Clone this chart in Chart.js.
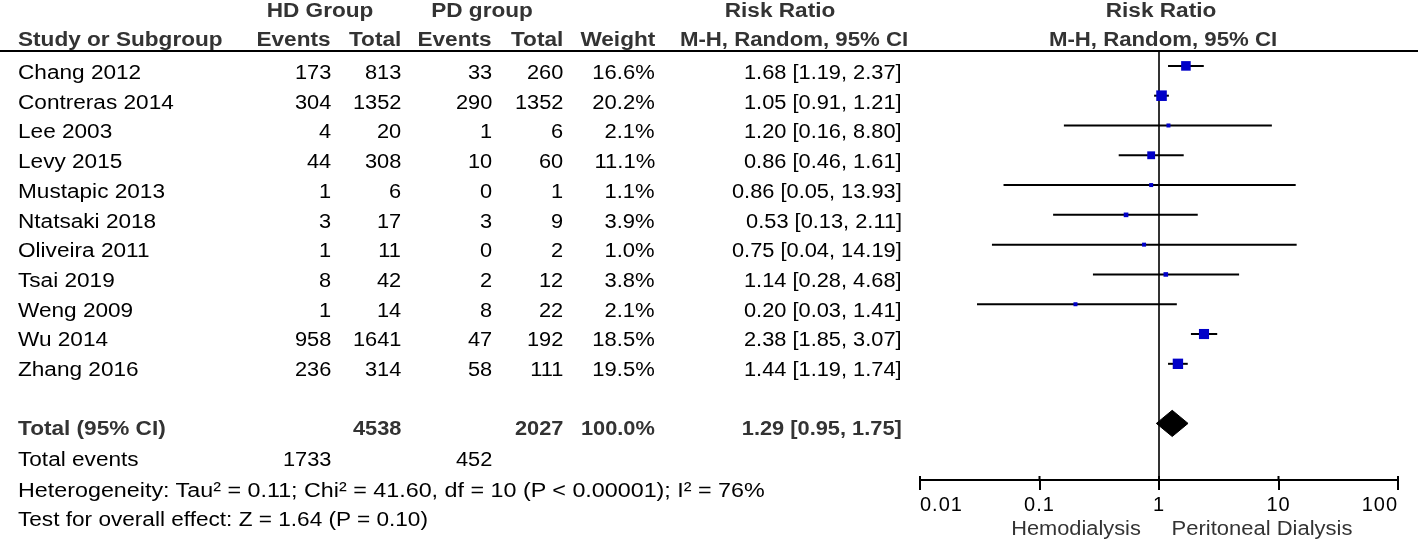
<!DOCTYPE html>
<html><head><meta charset="utf-8">
<script src="https://cdn.jsdelivr.net/npm/chart.js@4.4.1/dist/chart.umd.min.js"></script>
<style>
html,body{margin:0;padding:0;background:#fff;}
#wrap{position:relative;width:1418px;height:542px;overflow:hidden;font-family:"Liberation Sans",Arial,sans-serif;}
#c{position:absolute;left:0;top:0;}
.t{position:absolute;white-space:nowrap;font-size:20px;line-height:24px;color:#000;}
.b{font-weight:bold;color:#333;}
.g{color:#333;}
.hl{position:absolute;left:0;top:50px;width:1418px;height:2px;background:#000;}
</style></head>
<body><div id="wrap"><canvas id="c" width="1418" height="542"></canvas><div class="hl"></div></div>
<script>
const studies = ['Chang 2012','Contreras 2014','Lee 2003','Levy 2015','Mustapic 2013','Ntatsaki 2018','Oliveira 2011','Tsai 2019','Weng 2009','Wu 2014','Zhang 2016'];
const hdEvents = [173,304,4,44,1,3,1,8,1,958,236];
const hdTotal  = [813,1352,20,308,6,17,11,42,14,1641,314];
const pdEvents = [33,290,1,10,0,3,0,2,8,47,58];
const pdTotal  = [260,1352,6,60,1,9,2,12,22,192,111];
const weights  = [16.6,20.2,2.1,11.1,1.1,3.9,1.0,3.8,2.1,18.5,19.5];
const rr       = [1.68,1.05,1.20,0.86,0.86,0.53,0.75,1.14,0.20,2.38,1.44];
const ciLow    = [1.19,0.91,0.16,0.46,0.05,0.13,0.04,0.28,0.03,1.85,1.19];
const ciHigh   = [2.37,1.21,8.80,1.61,13.93,2.11,14.19,4.68,1.41,3.07,1.74];
const totalHD = 4538, totalPD = 2027, totalWeight = '100.0%';
const totalRR = 1.29, totalLow = 0.95, totalHigh = 1.75;
const eventsHD = 1733, eventsPD = 452;
const heterogeneity = 'Heterogeneity: Tau² = 0.11; Chi² = 41.60, df = 10 (P < 0.00001); I² = 76%';
const overall = 'Test for overall effect: Z = 1.64 (P = 0.10)';
const xTicks = [0.01,0.1,1,10,100];
const favLeft = 'Hemodialysis', favRight = 'Peritoneal Dialysis';

const wrap = document.getElementById('wrap');
function addText(txt, x, y, align, cls, sx) {
  sx = sx || 1.13;
  const d = document.createElement('div');
  d.className = 't' + (cls ? ' ' + cls : '');
  d.textContent = txt;
  d.style.top = (y - 12) + 'px';
  if (align === 'left') {
    d.style.left = x + 'px'; d.style.transformOrigin = 'left center'; d.style.transform = 'scaleX(' + sx + ')';
  } else if (align === 'right') {
    d.style.right = (1418 - x) + 'px'; d.style.transformOrigin = 'right center'; d.style.transform = 'scaleX(' + sx + ')';
  } else {
    d.style.left = x + 'px'; d.style.transform = 'translateX(-50%) scaleX(' + sx + ')';
  }
  wrap.appendChild(d);
}
const fmtCI = (v, l, h) => v.toFixed(2) + ' [' + l.toFixed(2) + ', ' + h.toFixed(2) + ']';
const colX = {study:18, hdE:331, hdT:401, pdE:492, pdT:563, w:655, rr:902};
// headers
addText('HD Group', 320, 10, 'center', 'b');
addText('PD group', 482, 10, 'center', 'b');
addText('Risk Ratio', 780, 10, 'center', 'b');
addText('Risk Ratio', 1161, 10, 'center', 'b');
addText('Study or Subgroup', colX.study, 39, 'left', 'b');
addText('Events', colX.hdE, 39, 'right', 'b');
addText('Total', colX.hdT, 39, 'right', 'b');
addText('Events', colX.pdE, 39, 'right', 'b');
addText('Total', colX.pdT, 39, 'right', 'b');
addText('Weight', colX.w, 39, 'right', 'b');
addText('M-H, Random, 95% CI', 794, 39, 'center', 'b', 1.11);
addText('M-H, Random, 95% CI', 1163, 39, 'center', 'b', 1.11);
studies.forEach((s, i) => {
  const y = 72 + 29.7 * i;
  addText(s, colX.study, y, 'left');
  addText(String(hdEvents[i]), colX.hdE, y, 'right', '', 1.09);
  addText(String(hdTotal[i]), colX.hdT, y, 'right', '', 1.09);
  addText(String(pdEvents[i]), colX.pdE, y, 'right', '', 1.09);
  addText(String(pdTotal[i]), colX.pdT, y, 'right', '', 1.09);
  addText(weights[i].toFixed(1) + '%', colX.w, y, 'right', '', 1.1);
  addText(fmtCI(rr[i], ciLow[i], ciHigh[i]), colX.rr, y, 'right', '', 1.09);
});
addText('Total (95% CI)', colX.study, 428, 'left', 'b');
addText(String(totalHD), colX.hdT, 428, 'right', 'b', 1.09);
addText(String(totalPD), colX.pdT, 428, 'right', 'b', 1.09);
addText(totalWeight, colX.w, 428, 'right', 'b', 1.09);
addText(fmtCI(totalRR, totalLow, totalHigh), colX.rr, 428, 'right', 'b', 1.09);
addText('Total events', colX.study, 459, 'left');
addText(String(eventsHD), colX.hdE, 459, 'right', '', 1.09);
addText(String(eventsPD), colX.pdE, 459, 'right', '', 1.09);
addText(heterogeneity, colX.study, 490, 'left', '', 1.165);
addText(overall, colX.study, 519, 'left');
addText(favLeft, 1076, 528, 'center', 'g', 1.09);
addText(favRight, 1262, 528, 'center', 'g', 1.1);

// chart
const TOTAL_ROW = studies.length + 1;
const datasets = [];
datasets.push({
  type: 'scatter', data: rr.map((v, i) => ({x: v, y: i})),
  pointStyle: 'rect',
  pointRadius: weights.map(w => Math.max(4, 2.35 * Math.sqrt(w)) / Math.SQRT2),
  pointBackgroundColor: '#0000c8', pointBorderWidth: 0, order: 0
});
datasets.push({
  type: 'line',
  data: [{x: totalLow, y: TOTAL_ROW}, {x: totalRR, y: TOTAL_ROW - 0.44}, {x: totalHigh, y: TOTAL_ROW}, {x: totalRR, y: TOTAL_ROW + 0.44}, {x: totalLow, y: TOTAL_ROW}],
  borderColor: '#000', backgroundColor: '#000', borderWidth: 1, fill: 'shape', pointRadius: 0, tension: 0, order: 0
});
studies.forEach((s, i) => {
  datasets.push({
    type: 'line', data: [{x: ciLow[i], y: i}, {x: ciHigh[i], y: i}],
    borderColor: '#000', borderWidth: 2, pointRadius: 0, fill: false, order: 1
  });
});
datasets.push({
  type: 'line', data: [{x: 1, y: -0.5}, {x: 1, y: 13.9}],
  borderColor: '#333', borderWidth: 2, pointRadius: 0, fill: false, order: 2
});

const tickUp = {
  id: 'tickUp',
  beforeDraw(chart) { try { chart.ctx.letterSpacing = '1px'; } catch (e) {} },
  afterDraw(chart) {
    const s = chart.scales.x, ctx = chart.ctx, b = chart.chartArea.bottom;
    ctx.save(); ctx.strokeStyle = '#000'; ctx.lineWidth = 2;
    xTicks.forEach(v => { const p = s.getPixelForValue(v); ctx.beginPath(); ctx.moveTo(p, b - 4); ctx.lineTo(p, b); ctx.stroke(); });
    ctx.restore();
  }
};

new Chart(document.getElementById('c'), {
  type: 'scatter',
  data: {datasets},
  plugins: [tickUp],
  options: {
    responsive: false, animation: false,
    layout: {padding: {left: 920, right: 20, top: 51, bottom: 0}},
    plugins: {legend: {display: false}, tooltip: {enabled: false}},
    scales: {
      x: {
        type: 'logarithmic', min: 0.01, max: 100,
        afterBuildTicks: s => { s.ticks = xTicks.map(v => ({value: v})); },
        afterFit: s => { s.height = 62; },
        ticks: {callback: v => String(v), color: '#000', font: {family: 'Liberation Sans', size: 20}, padding: 3, maxRotation: 0, autoSkip: false, align: 'inner'},
        grid: {display: true, drawOnChartArea: false, drawTicks: true, tickLength: 10, color: '#000', lineWidth: 2},
        border: {display: true, color: '#000', width: 2}
      },
      y: {type: 'linear', min: -0.5, max: 13.9, reverse: true, display: false}
    }
  }
});
</script>
</body></html>
